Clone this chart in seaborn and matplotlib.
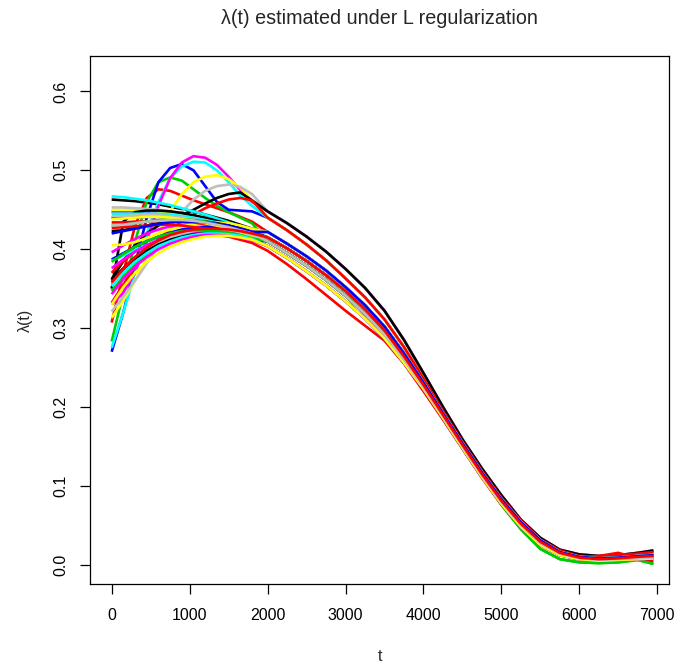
import numpy as np
import pandas as pd
import matplotlib
matplotlib.use("Agg")
import matplotlib.pyplot as plt
import seaborn as sns

# early part of each curve (t from 0 to 1800)
head_t = [0, 150, 300, 450, 600, 750, 900, 1050, 1200, 1350, 1500, 1650, 1800]
# later part (t from 2000 to 6950), shared by groups of curves
tail_t = [2000, 2250, 2500, 2750, 3000, 3250, 3500, 3750, 4000, 4250, 4500,
          4750, 5000, 5250, 5500, 5750, 6000, 6250, 6500, 6750, 6950]

tail_a = [0.448, 0.433, 0.416, 0.397, 0.375, 0.351, 0.322, 0.285, 0.243, 0.200, 0.159, 0.122, 0.088, 0.057, 0.034, 0.019, 0.013, 0.011, 0.012, 0.015, 0.018]
tail_b = [0.440, 0.424, 0.406, 0.386, 0.363, 0.339, 0.311, 0.276, 0.236, 0.195, 0.156, 0.119, 0.085, 0.056, 0.032, 0.018, 0.011, 0.010, 0.012, 0.014, 0.016]
tail_c = [0.422, 0.407, 0.391, 0.373, 0.352, 0.329, 0.302, 0.268, 0.231, 0.192, 0.154, 0.117, 0.083, 0.054, 0.031, 0.016, 0.010, 0.008, 0.009, 0.011, 0.012]
tail_d = [0.415, 0.401, 0.385, 0.367, 0.347, 0.324, 0.297, 0.264, 0.228, 0.190, 0.152, 0.115, 0.081, 0.052, 0.029, 0.015, 0.009, 0.007, 0.008, 0.010, 0.011]
tail_e = [0.410, 0.395, 0.379, 0.361, 0.341, 0.318, 0.292, 0.260, 0.225, 0.188, 0.150, 0.113, 0.079, 0.050, 0.027, 0.014, 0.008, 0.006, 0.007, 0.008, 0.009]
tail_f = [0.404, 0.389, 0.372, 0.354, 0.334, 0.312, 0.287, 0.256, 0.223, 0.186, 0.148, 0.111, 0.077, 0.048, 0.025, 0.012, 0.007, 0.005, 0.006, 0.007, 0.008]
tail_red_low = [0.398, 0.381, 0.362, 0.342, 0.322, 0.303, 0.284, 0.255, 0.220, 0.184, 0.147, 0.110, 0.076, 0.047, 0.025, 0.013, 0.009, 0.011, 0.015, 0.008, 0.004]
tail_green = [0.410, 0.395, 0.379, 0.361, 0.341, 0.318, 0.292, 0.260, 0.225, 0.188, 0.150, 0.112, 0.076, 0.045, 0.020, 0.007, 0.003, 0.002, 0.003, 0.006, 0.001]

black_heads = [
    [0.463, 0.462, 0.461, 0.459, 0.457, 0.454, 0.451, 0.448, 0.444, 0.440, 0.436, 0.431, 0.426],
    [0.362, 0.385, 0.405, 0.420, 0.430, 0.437, 0.443, 0.450, 0.458, 0.465, 0.470, 0.472, 0.462],
    [0.350, 0.435, 0.447, 0.449, 0.449, 0.448, 0.446, 0.443, 0.440, 0.436, 0.432, 0.427, 0.422],
    [0.423, 0.424, 0.427, 0.430, 0.433, 0.435, 0.436, 0.436, 0.435, 0.433, 0.430, 0.426, 0.421],
    [0.362, 0.375, 0.388, 0.398, 0.406, 0.412, 0.416, 0.419, 0.420, 0.420, 0.419, 0.416, 0.412],
]
black_tails = [tail_c, tail_a, tail_d, tail_d, tail_e]

red_heads = [
    [0.307, 0.370, 0.430, 0.465, 0.476, 0.474, 0.468, 0.462, 0.457, 0.452, 0.447, 0.441, 0.435],
    [0.332, 0.355, 0.378, 0.398, 0.413, 0.425, 0.435, 0.444, 0.452, 0.458, 0.463, 0.465, 0.462],
    [0.370, 0.385, 0.397, 0.405, 0.411, 0.415, 0.418, 0.419, 0.419, 0.418, 0.416, 0.412, 0.408],
    [0.434, 0.434, 0.435, 0.435, 0.436, 0.436, 0.435, 0.434, 0.432, 0.430, 0.427, 0.423, 0.418],
    [0.427, 0.428, 0.429, 0.430, 0.431, 0.431, 0.430, 0.428, 0.426, 0.423, 0.420, 0.416, 0.412],
    [0.358, 0.375, 0.390, 0.402, 0.411, 0.418, 0.422, 0.425, 0.426, 0.426, 0.425, 0.423, 0.420],
]
red_tails = [tail_c, tail_b, tail_red_low, tail_e, tail_f, tail_d]

green_heads = [
    [0.283, 0.345, 0.410, 0.460, 0.485, 0.491, 0.487, 0.476, 0.465, 0.455, 0.447, 0.440, 0.433],
    [0.447, 0.446, 0.445, 0.444, 0.442, 0.440, 0.437, 0.434, 0.431, 0.428, 0.424, 0.420, 0.416],
    [0.347, 0.365, 0.381, 0.394, 0.404, 0.411, 0.416, 0.419, 0.421, 0.422, 0.421, 0.419, 0.416],
    [0.430, 0.431, 0.433, 0.435, 0.437, 0.438, 0.438, 0.437, 0.435, 0.432, 0.429, 0.425, 0.420],
    [0.384, 0.394, 0.403, 0.410, 0.416, 0.420, 0.423, 0.424, 0.424, 0.423, 0.421, 0.418, 0.414],
]
green_tails = [tail_green, tail_e, tail_green, tail_d, tail_e]

blue_heads = [
    [0.270, 0.320, 0.380, 0.440, 0.485, 0.503, 0.508, 0.500, 0.480, 0.460, 0.450, 0.449, 0.448],
    [0.440, 0.440, 0.440, 0.441, 0.441, 0.440, 0.439, 0.437, 0.434, 0.431, 0.427, 0.423, 0.418],
    [0.387, 0.395, 0.403, 0.410, 0.416, 0.421, 0.425, 0.427, 0.428, 0.428, 0.427, 0.425, 0.421],
    [0.360, 0.376, 0.390, 0.400, 0.408, 0.414, 0.418, 0.420, 0.421, 0.421, 0.420, 0.418, 0.414],
    [0.420, 0.423, 0.426, 0.429, 0.432, 0.434, 0.435, 0.435, 0.434, 0.432, 0.430, 0.426, 0.422],
]
blue_tails = [tail_b, tail_e, tail_d, tail_f, tail_c]

cyan_heads = [
    [0.275, 0.320, 0.370, 0.420, 0.460, 0.490, 0.505, 0.511, 0.510, 0.500, 0.485, 0.468, 0.455],
    [0.467, 0.466, 0.464, 0.462, 0.459, 0.456, 0.452, 0.448, 0.444, 0.439, 0.434, 0.429, 0.424],
    [0.445, 0.445, 0.445, 0.445, 0.445, 0.444, 0.442, 0.440, 0.437, 0.434, 0.430, 0.426, 0.421],
    [0.385, 0.392, 0.399, 0.405, 0.410, 0.414, 0.418, 0.420, 0.421, 0.421, 0.420, 0.418, 0.414],
    [0.353, 0.370, 0.384, 0.395, 0.404, 0.410, 0.415, 0.418, 0.420, 0.420, 0.419, 0.417, 0.413],
]
cyan_tails = [tail_b, tail_d, tail_c, tail_e, tail_f]

magenta_heads = [
    [0.330, 0.345, 0.370, 0.410, 0.455, 0.490, 0.510, 0.518, 0.516, 0.507, 0.492, 0.475, 0.460],
    [0.448, 0.448, 0.448, 0.448, 0.448, 0.447, 0.445, 0.442, 0.439, 0.435, 0.431, 0.427, 0.422],
    [0.396, 0.405, 0.413, 0.420, 0.425, 0.429, 0.431, 0.432, 0.432, 0.431, 0.429, 0.426, 0.422],
    [0.376, 0.387, 0.397, 0.405, 0.412, 0.417, 0.420, 0.422, 0.423, 0.423, 0.422, 0.420, 0.416],
    [0.343, 0.362, 0.378, 0.390, 0.400, 0.407, 0.412, 0.416, 0.418, 0.418, 0.417, 0.415, 0.411],
]
magenta_tails = [tail_a, tail_c, tail_d, tail_e, tail_f]

yellow_heads = [
    [0.313, 0.335, 0.360, 0.390, 0.420, 0.448, 0.470, 0.485, 0.492, 0.494, 0.489, 0.478, 0.462],
    [0.450, 0.450, 0.450, 0.449, 0.448, 0.446, 0.443, 0.440, 0.436, 0.432, 0.428, 0.423, 0.418],
    [0.405, 0.406, 0.409, 0.414, 0.420, 0.425, 0.429, 0.432, 0.434, 0.434, 0.433, 0.430, 0.426],
    [0.438, 0.439, 0.440, 0.441, 0.441, 0.440, 0.438, 0.436, 0.433, 0.430, 0.426, 0.421, 0.416],
    [0.330, 0.352, 0.370, 0.384, 0.395, 0.403, 0.409, 0.413, 0.416, 0.417, 0.417, 0.415, 0.412],
]
yellow_tails = [tail_b, tail_e, tail_c, tail_e, tail_f]

gray_heads = [
    [0.321, 0.340, 0.360, 0.382, 0.405, 0.427, 0.447, 0.463, 0.474, 0.480, 0.482, 0.479, 0.470],
    [0.453, 0.453, 0.452, 0.451, 0.450, 0.448, 0.445, 0.442, 0.439, 0.435, 0.430, 0.426, 0.421],
    [0.442, 0.442, 0.443, 0.443, 0.443, 0.442, 0.440, 0.438, 0.435, 0.432, 0.428, 0.424, 0.419],
    [0.355, 0.372, 0.387, 0.399, 0.408, 0.415, 0.420, 0.423, 0.425, 0.425, 0.424, 0.422, 0.418],
    [0.430, 0.431, 0.433, 0.435, 0.436, 0.437, 0.437, 0.436, 0.434, 0.431, 0.428, 0.424, 0.420],
]
gray_tails = [tail_a, tail_c, tail_d, tail_d, tail_e]

groups = [
    ("black", "#000000", black_heads, black_tails),
    ("red", "#FF0000", red_heads, red_tails),
    ("green3", "#00CD00", green_heads, green_tails),
    ("blue", "#0000FF", blue_heads, blue_tails),
    ("cyan", "#00FFFF", cyan_heads, cyan_tails),
    ("magenta", "#FF00FF", magenta_heads, magenta_tails),
    ("yellow", "#FFFF00", yellow_heads, yellow_tails),
    ("gray", "#BEBEBE", gray_heads, gray_tails),
]

t_full = head_t + tail_t
rows = []
palette = {}
order = []
max_n = max(len(g[2]) for g in groups)
for i in range(max_n):
    for name, col, heads, tails in groups:
        if i < len(heads):
            key = f"{name}_{i}"
            palette[key] = col
            order.append(key)
            vals = heads[i] + tails[i]
            for tt, vv in zip(t_full, vals):
                rows.append({"t": tt, "lam": vv, "curve": key})
df = pd.DataFrame(rows)

sns.set_style("ticks")
plt.rcParams["font.family"] = ["Liberation Sans", "DejaVu Sans"]

fig = plt.figure(figsize=(6.76, 6.63), dpi=100)
ax = fig.add_axes([90 / 676, 1 - 584 / 663, (669 - 90) / 676, (584 - 56) / 663])

for key in order:
    sub = df[df["curve"] == key]
    sns.lineplot(data=sub, x="t", y="lam", color=palette[key], lw=1.9,
                 estimator=None, sort=False, legend=False, ax=ax,
                 solid_joinstyle="round", solid_capstyle="butt")

ax.set_xlim(-278, 7150)
ax.set_ylim(-0.0245, 0.645)
ax.set_xticks([0, 1000, 2000, 3000, 4000, 5000, 6000, 7000])
ax.set_yticks([0.0, 0.1, 0.2, 0.3, 0.4, 0.5, 0.6])
ax.set_yticklabels(["0.0", "0.1", "0.2", "0.3", "0.4", "0.5", "0.6"],
                   rotation=90, va="center")
ax.tick_params(axis="both", direction="out", length=7, width=0.9,
               labelsize=11.5, colors="black")
ax.tick_params(axis="x", pad=10.5)
ax.tick_params(axis="y", pad=8.5)
for s in ax.spines.values():
    s.set_visible(True)
    s.set_linewidth(0.9)
    s.set_color("black")
ax.set_xlabel("t", fontsize=11.5, labelpad=18.5)
ax.set_ylabel("λ(t)", fontsize=11.5, labelpad=14.5)
fig.text((90 + 669) / 2 / 676, 1 - 18 / 663, "λ(t) estimated under L regularization",
         ha="center", va="center", fontsize=14.2)
ax.grid(False)

fig.savefig("out.png", dpi=100, facecolor="white")
